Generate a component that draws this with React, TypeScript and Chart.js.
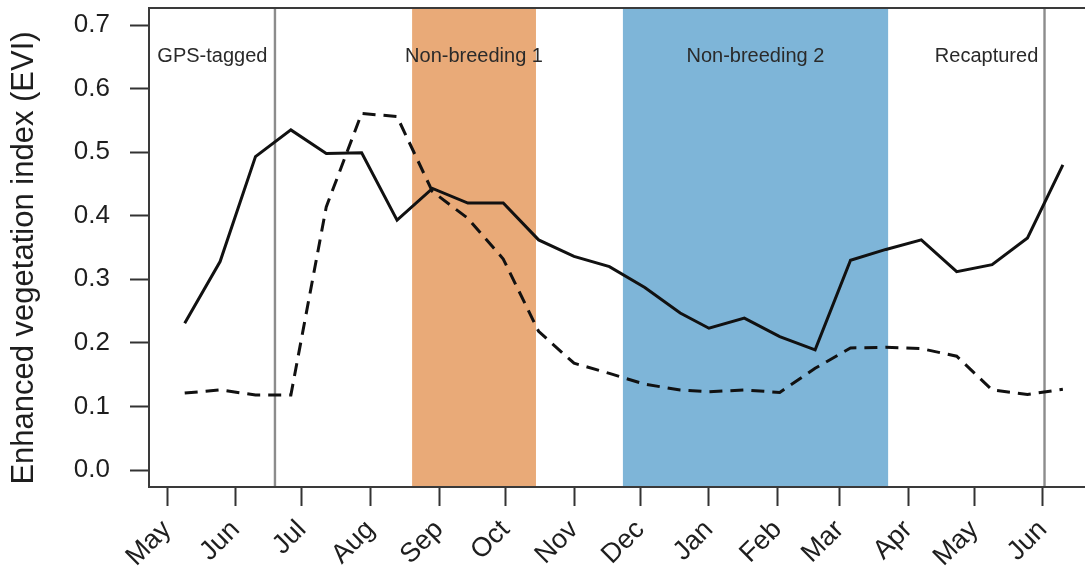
import React, { useEffect, useRef } from "react";
import { Chart, registerables } from "chart.js";

Chart.register(...registerables);

// Days since 1 May (year of tagging) of each 16-day EVI composite
const compositeDays = [8, 24, 40, 56, 72, 88, 104, 120, 136, 152, 168, 184, 200, 216, 232, 245, 261, 277, 293, 309, 325, 341, 357, 373, 389, 405];
// Solid line
const eviSolid = [0.231, 0.328, 0.493, 0.535, 0.498, 0.499, 0.393, 0.443, 0.42, 0.42, 0.362, 0.336, 0.32, 0.287, 0.247, 0.223, 0.239, 0.21, 0.189, 0.33, 0.347, 0.362, 0.312, 0.323, 0.365, 0.48];
// Dashed line
const eviDashed = [0.121, 0.126, 0.118, 0.118, 0.414, 0.561, 0.556, 0.438, 0.396, 0.332, 0.218, 0.168, 0.152, 0.135, 0.126, 0.123, 0.126, 0.122, 0.16, 0.192, 0.193, 0.191, 0.179, 0.126, 0.119, 0.127];

const monthTickDays = [0, 31, 61, 92, 123, 153, 184, 214, 245, 276, 304, 335, 365, 396];
const monthTickLabels = ["May", "Jun", "Jul", "Aug", "Sep", "Oct", "Nov", "Dec", "Jan", "Feb", "Mar", "Apr", "May", "Jun"];
const yTickValues = [0, 0.1, 0.2, 0.3, 0.4, 0.5, 0.6, 0.7];

const bandStartDays = [110.8, 206.1];
const bandEndDays = [166.8, 326];
const bandColors = ["#E9AA78", "#7EB5D8"];
const markerDays = [48.8, 396.7];
const periodLabels = ["GPS-tagged", "Non-breeding 1", "Non-breeding 2", "Recaptured"];
const periodLabelDays = [20.5, 138.8, 266, 370.5];
const periodLabelValue = 0.65;
const yTitle = "Enhanced vegetation index (EVI)";

const FONT = "'Liberation Sans', Arial, Helvetica, sans-serif";

const zeroPadding = (scale: any) => {
  scale.paddingTop = 0;
  scale.paddingBottom = 0;
  scale.paddingLeft = 0;
  scale.paddingRight = 0;
};

const decorPlugin = {
  id: "decor",
  beforeDatasetsDraw(chart: any) {
    const { ctx, chartArea, scales } = chart;
    const x = scales.x;
    const y = scales.y;
    ctx.save();
    bandStartDays.forEach((s, i) => {
      const x0 = x.getPixelForValue(s);
      const x1 = x.getPixelForValue(bandEndDays[i]);
      ctx.fillStyle = bandColors[i];
      ctx.fillRect(x0, chartArea.top, x1 - x0, chartArea.bottom - chartArea.top);
    });
    ctx.strokeStyle = "#8c8c8c";
    ctx.lineWidth = 2.4;
    markerDays.forEach((d) => {
      const px = x.getPixelForValue(d);
      ctx.beginPath();
      ctx.moveTo(px, chartArea.top);
      ctx.lineTo(px, chartArea.bottom);
      ctx.stroke();
    });
    ctx.fillStyle = "#2a2a2a";
    ctx.font = `20px ${FONT}`;
    ctx.textAlign = "center";
    ctx.textBaseline = "middle";
    periodLabels.forEach((t, i) => {
      ctx.fillText(t, x.getPixelForValue(periodLabelDays[i]), y.getPixelForValue(periodLabelValue));
    });
    ctx.restore();
  },
  afterDatasetsDraw(chart: any) {
    const { ctx, chartArea } = chart;
    ctx.save();
    ctx.strokeStyle = "#3a3a3a";
    ctx.lineWidth = 2;
    ctx.beginPath();
    ctx.moveTo(chartArea.right + 2, chartArea.top);
    ctx.lineTo(chartArea.left, chartArea.top);
    ctx.lineTo(chartArea.left, chartArea.bottom);
    ctx.lineTo(chartArea.right + 2, chartArea.bottom);
    ctx.stroke();
    ctx.restore();
  },
  afterDraw(chart: any) {
    const { ctx } = chart;
    ctx.save();
    ctx.translate(33, 258);
    ctx.rotate(-Math.PI / 2);
    ctx.fillStyle = "#1e1e1e";
    ctx.font = `31px ${FONT}`;
    ctx.textAlign = "center";
    ctx.textBaseline = "alphabetic";
    ctx.fillText(yTitle, 0, 0);
    ctx.restore();
  },
};

export default function App() {
  const canvasRef = useRef<HTMLCanvasElement | null>(null);

  useEffect(() => {
    document.body.style.margin = "0";
    const canvas = canvasRef.current;
    if (!canvas) return;
    const chart = new Chart(canvas, {
      type: "line",
      data: {
        datasets: [
          {
            label: "solid",
            data: compositeDays.map((d, i) => ({ x: d, y: eviSolid[i] })),
            borderColor: "#111111",
            borderWidth: 3,
            pointRadius: 0,
            tension: 0,
            fill: false,
          },
          {
            label: "dashed",
            data: compositeDays.map((d, i) => ({ x: d, y: eviDashed[i] })),
            borderColor: "#111111",
            borderWidth: 3,
            borderDash: [13, 8],
            pointRadius: 0,
            tension: 0,
            fill: false,
          },
        ],
      },
      options: {
        responsive: false,
        animation: false,
        events: [],
        layout: { padding: { top: 8, left: 0, right: 0, bottom: 0 } },
        plugins: { legend: { display: false }, tooltip: { enabled: false } },
        scales: {
          x: {
            type: "linear",
            min: -8.14,
            max: 415,
            afterBuildTicks: (scale: any) => {
              scale.ticks = monthTickDays.map((v) => ({ value: v }));
            },
            afterFit: (scale: any) => {
              scale.height = 94;
              zeroPadding(scale);
            },
            border: { display: false },
            grid: {
              drawOnChartArea: false,
              drawTicks: true,
              tickLength: 19,
              tickWidth: 2,
              tickColor: "#333333",
              color: "#333333",
            },
            ticks: {
              autoSkip: false,
              minRotation: 45,
              maxRotation: 45,
              padding: 8,
              color: "#1e1e1e",
              font: { family: FONT, size: 27 },
              callback: (_v: any, i: number) => monthTickLabels[i],
            },
          },
          y: {
            type: "linear",
            min: -0.0267,
            max: 0.7268,
            afterBuildTicks: (scale: any) => {
              scale.ticks = yTickValues.map((v) => ({ value: v }));
            },
            afterFit: (scale: any) => {
              scale.width = 149;
              zeroPadding(scale);
            },
            border: { display: false },
            grid: {
              drawOnChartArea: false,
              drawTicks: true,
              tickLength: 19,
              tickWidth: 2,
              tickColor: "#333333",
              color: "#333333",
            },
            ticks: {
              padding: 20,
              color: "#1e1e1e",
              font: { family: FONT, size: 26 },
              callback: (v: any) => Number(v).toFixed(1),
            },
          },
        },
      },
      plugins: [decorPlugin],
    });
    return () => chart.destroy();
  }, []);

  return (
    <div style={{ position: "fixed", left: 0, top: 0, width: 1085, height: 581, background: "#ffffff" }}>
      <canvas ref={canvasRef} width={1085} height={581} style={{ display: "block" }} />
    </div>
  );
}
